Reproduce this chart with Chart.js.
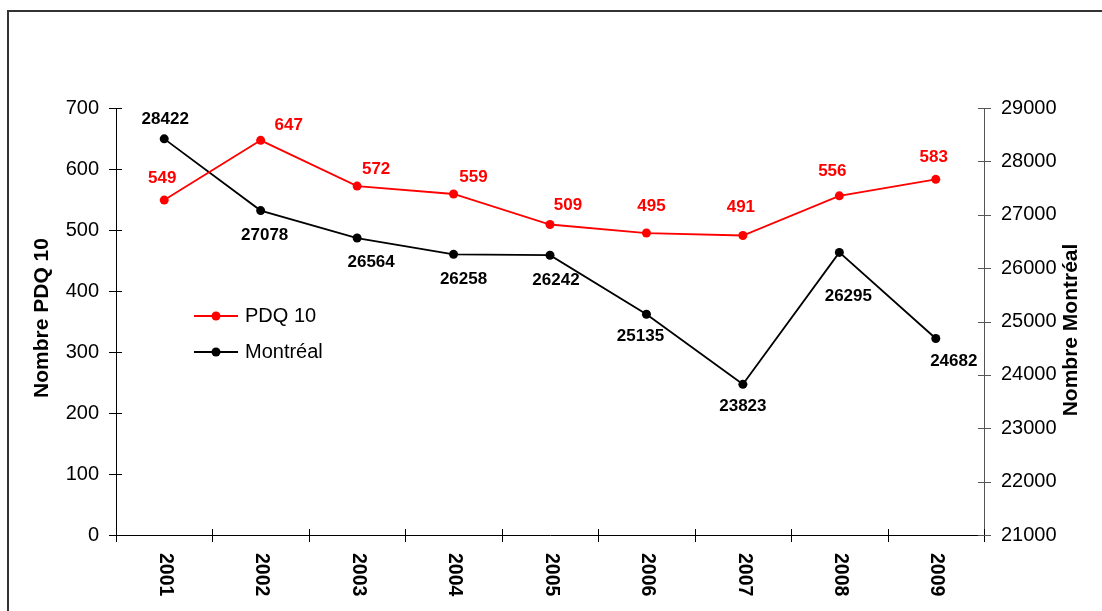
<!DOCTYPE html>
<html>
<head>
<meta charset="utf-8">
<script src="https://cdn.jsdelivr.net/npm/chart.js@4.4.1/dist/chart.umd.min.js"></script>
<style>
  body { margin: 0; background: #fff; }
  canvas { display: block; }
</style>
</head>
<body>
<canvas id="chart" width="1102" height="611"></canvas>
<script>
const years = ['2001', '2002', '2003', '2004', '2005', '2006', '2007', '2008', '2009'];
const pdq10 = [549, 647, 572, 559, 509, 495, 491, 556, 583];
const montreal = [28422, 27078, 26564, 26258, 26242, 25135, 23823, 26295, 24682];
const leftRange = [0, 700, 100];
const rightRange = [21000, 29000, 1000];
const leftTitle = 'Nombre PDQ 10';
const rightTitle = 'Nombre Montréal';

// label offsets from each point (dx, dy)
const pdqOffsets = [[-2, -22], [28, -15], [19, -17], [20, -17], [18, -19], [5, -27], [-2, -28], [-7, -25], [-2, -22]];
const mtlOffsets = [[1, -20], [4, 25], [14, 24], [10, 25], [6, 25], [-6, 22], [0, 22], [9, 44], [18, 23]];

const FONT = "'Liberation Sans', Arial, sans-serif";

const decor = {
  id: 'decor',
  beforeDraw(chart) {
    const ctx = chart.ctx;
    ctx.save();
    ctx.fillStyle = '#fff';
    ctx.fillRect(0, 0, chart.width, chart.height);
    ctx.strokeStyle = '#333';
    ctx.lineWidth = 2;
    ctx.beginPath();
    ctx.moveTo(8, chart.height);
    ctx.lineTo(8, 11);
    ctx.lineTo(chart.width, 11);
    ctx.stroke();
    ctx.restore();
  },
  afterDatasetsDraw(chart) {
    const ctx = chart.ctx;
    ctx.save();
    ctx.font = 'bold 17px ' + FONT;
    ctx.textAlign = 'center';
    ctx.textBaseline = 'middle';
    chart.data.datasets.forEach((ds, di) => {
      const meta = chart.getDatasetMeta(di);
      const offs = di === 0 ? pdqOffsets : mtlOffsets;
      ctx.fillStyle = ds.borderColor;
      meta.data.forEach((pt, i) => {
        ctx.fillText(String(ds.data[i]), pt.x + offs[i][0], pt.y + offs[i][1]);
      });
    });
    ctx.restore();
  },
  afterDraw(chart) {
    const ctx = chart.ctx;
    const x = chart.scales.x, yl = chart.scales.y, yr = chart.scales.y1;
    ctx.save();

    // crossing tick marks
    ctx.lineWidth = 1;
    ctx.strokeStyle = '#000';
    ctx.beginPath();
    yl.ticks.forEach((t, i) => {
      const py = Math.round(yl.getPixelForTick(i)) + 0.5;
      ctx.moveTo(yl.right - 7, py); ctx.lineTo(yl.right + 6, py);
    });
    for (let i = 0; i <= years.length; i++) {
      const px = Math.round(x.getPixelForValue(i - 0.5)) + 0.5;
      ctx.moveTo(px, x.top - 6); ctx.lineTo(px, x.top + 7);
    }
    ctx.stroke();
    ctx.strokeStyle = '#555';
    ctx.beginPath();
    yr.ticks.forEach((t, i) => {
      const py = Math.round(yr.getPixelForTick(i)) + 0.5;
      ctx.moveTo(yr.left - 6, py); ctx.lineTo(yr.left + 7, py);
    });
    ctx.stroke();

    // x labels, rotated clockwise
    ctx.fillStyle = '#000';
    ctx.font = 'bold 19.5px ' + FONT;
    ctx.textAlign = 'left';
    ctx.textBaseline = 'middle';
    years.forEach((lab, i) => {
      ctx.save();
      ctx.translate(x.getPixelForValue(i) + 1, x.top + 18);
      ctx.rotate(Math.PI / 2);
      ctx.fillText(lab, 0, 0);
      ctx.restore();
    });

    // axis titles
    ctx.font = 'bold 21px ' + FONT;
    ctx.textAlign = 'center';
    [[42, leftTitle, 318], [1071, rightTitle, 330]].forEach(([tx, t, ty]) => {
      ctx.save();
      ctx.translate(tx, ty);
      ctx.rotate(-Math.PI / 2);
      ctx.fillText(t, 0, 0);
      ctx.restore();
    });

    // legend
    ctx.font = '20px ' + FONT;
    ctx.textAlign = 'left';
    chart.data.datasets.forEach((ds, di) => {
      const ly = 316 + di * 36;
      ctx.strokeStyle = ds.borderColor;
      ctx.lineWidth = ds.borderWidth;
      ctx.beginPath();
      ctx.moveTo(194, ly); ctx.lineTo(238, ly);
      ctx.stroke();
      ctx.fillStyle = ds.borderColor;
      ctx.beginPath();
      ctx.arc(216, ly, 4.5, 0, Math.PI * 2);
      ctx.fill();
      ctx.fillStyle = '#000';
      ctx.fillText(ds.label, 245, ly);
    });
    ctx.restore();
  }
};

new Chart(document.getElementById('chart'), {
  type: 'line',
  data: {
    labels: years,
    datasets: [
      {
        label: 'PDQ 10',
        data: pdq10,
        yAxisID: 'y',
        borderColor: '#ff0000',
        backgroundColor: '#ff0000',
        borderWidth: 1.8,
        pointRadius: 4.5,
        pointBorderWidth: 0,
        tension: 0
      },
      {
        label: 'Montréal',
        data: montreal,
        yAxisID: 'y1',
        borderColor: '#000000',
        backgroundColor: '#000000',
        borderWidth: 1.8,
        pointRadius: 4.5,
        pointBorderWidth: 0,
        tension: 0
      }
    ]
  },
  options: {
    responsive: false,
    animation: false,
    layout: { padding: { top: 108, left: 0, right: 0, bottom: 0 } },
    plugins: { legend: { display: false }, tooltip: { enabled: false } },
    scales: {
      x: {
        offset: true,
        grid: { display: false, drawTicks: false },
        border: { display: true, color: '#000', width: 1 },
        ticks: { display: false },
        afterFit(s) { s.height = 76; }
      },
      y: {
        position: 'left',
        min: leftRange[0], max: leftRange[1],
        grid: { display: false, drawTicks: false },
        border: { display: true, color: '#000', width: 1 },
        ticks: { stepSize: leftRange[2], padding: 17, color: '#000', font: { family: FONT, size: 20 } },
        afterFit(s) { s.width = 116; }
      },
      y1: {
        position: 'right',
        min: rightRange[0], max: rightRange[1],
        grid: { display: false, drawTicks: false },
        border: { display: true, color: '#555', width: 1 },
        ticks: {
          stepSize: rightRange[2], padding: 17, color: '#000', font: { family: FONT, size: 20 },
          callback: v => String(v)
        },
        afterFit(s) { s.width = 118; }
      }
    }
  },
  plugins: [decor]
});
</script>
</body>
</html>
